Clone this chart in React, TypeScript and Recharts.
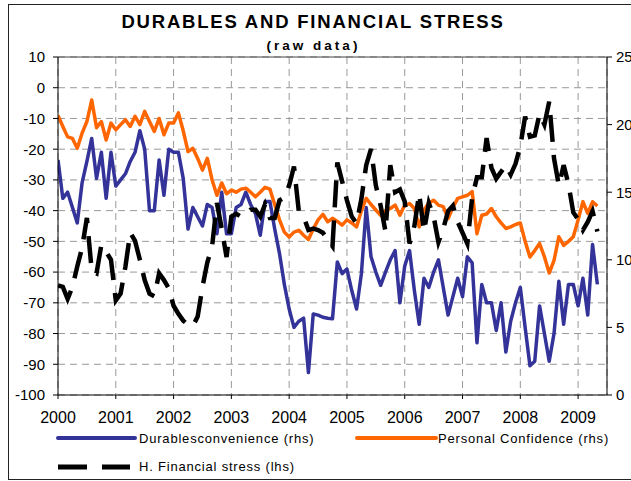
import { ComposedChart, Line, XAxis, YAxis, CartesianGrid, ReferenceLine } from "recharts";

// monthly series, Jan 2000 .. May 2009
const yearTicks = [2000, 2001, 2002, 2003, 2004, 2005, 2006, 2007, 2008, 2009];
const leftTicks = [-100, -90, -80, -70, -60, -50, -40, -30, -20, -10, 0, 10];
const rightTicks = [0, 5, 10, 15, 20, 25];

const durables = [
  -23.5, -36, -34, -39, -44, -31, -24, -16.5, -29.5, -21, -36, -21,
  -32, -30, -28, -24, -21, -14, -20, -40, -40, -23.5, -35, -20,
  -21, -21, -29.5, -46, -39, -42, -45, -38, -39, -47.5, -34, -47.5,
  -47.5, -39, -38, -34, -38, -41, -48, -37, -37, -46, -54, -64,
  -72, -78, -76, -75, -92.7, -73.6, -74, -74.7, -75, -75.2, -56.7, -60.5,
  -59, -66, -72, -60.5, -39, -55, -60, -64.3, -60, -56, -53, -70,
  -58, -53, -66, -77, -62, -65, -60, -56, -65, -74, -68, -62,
  -68, -55, -57, -83, -64, -70, -70, -79, -70, -86, -76, -70,
  -65, -78, -90.5, -89, -71, -80, -89, -80, -63, -77, -64, -64,
  -71, -62, -74, -51, -64,
];

const confidence = [
  -9, -12.6, -16, -16.5, -19.7, -14.8, -11, -4, -13, -11, -17, -11.5,
  -13.7, -12, -10.4, -12.6, -9.3, -12, -7.7, -11, -14.2, -10, -15.3, -11.5,
  -11.5, -8.2, -14, -20.8, -19.7, -23, -26.8, -23, -30, -35, -31, -34.5,
  -33.3, -34, -33, -32.7, -34, -35.5, -34, -32.4, -33, -38, -43, -47,
  -48.6, -47, -46.4, -48, -49.4, -46, -43, -41.2, -43.6, -42.5, -43.5, -44.7,
  -43, -44, -45.3, -40, -36, -38, -39.8, -41.5, -40, -39.3, -38.2, -41.5,
  -38.2, -37.7, -39.3, -45.3, -39.8, -37.5, -36.6, -38.2, -38.7, -42.6, -39, -36,
  -35.5, -35, -33.8, -47.5, -41.5, -41.1, -39.3, -42, -44, -45.8, -45.3, -44.5,
  -44, -50, -55.1, -53, -50.7, -55, -60.3, -56.2, -48.5, -51.3, -50, -48.5,
  -43, -37.1, -40.9, -37.1, -38.5,
];

const stress = [
  8.1, 8.0, 7.1, 8.0, 9.5, 10.9, 13.1, 9.2, 9.0, 11.1, 10.6, 10.0,
  7.0, 7.5, 9.5, 12.0, 11.4, 10.0, 8.5, 7.5, 7.3, 9.0, 8.5, 7.9,
  6.6, 6.0, 5.5, 5.2, 5.1, 5.8, 8.0, 9.8, 11.0, 14.2, 12.3, 10.2,
  13.2, 13.4, 13.2, 13.3, 13.7, 13.7, 13.2, 14.1, 13.1, 13.1, 14.4, 14.6,
  15.5, 16.9, 13.6, 13.2, 12.2, 12.3, 12.2, 12.0, 11.5, 11.0, 17.2, 15.8,
  14.4, 13.2, 12.7, 14.5, 17.0, 18.2, 15.5, 14.0, 12.1, 17.0, 15.0, 15.2,
  14.3, 11.2, 12.5, 14.9, 12.1, 14.2, 13.2, 11.3, 12.3, 13.6, 14.0, 12.8,
  12.0, 11.2, 14.6, 16.1, 16.1, 19.0, 16.8, 16.0, 16.5, 17.0, 16.3, 17.1,
  18.4, 20.6, 19.1, 19.2, 20.8, 20.0, 21.7, 17.5, 15.5, 17.0, 15.6, 13.5,
  13.0, 12.2, 12.8, 13.6, 12.1,
];

const data = durables.map((d, i) => ({
  m: i,
  durables: d,
  confidence: confidence[i],
  stress: stress[i],
}));

const FONT = "'Liberation Sans', Arial, sans-serif";
const tickStyle = { fill: "#000", fontSize: 16, fontFamily: FONT };

export default function App() {
  return (
    <div
      style={{
        position: "absolute",
        left: 0,
        top: 0,
        width: 631,
        height: 481,
        overflow: "hidden",
        background: "#fff",
        fontFamily: FONT,
      }}
    >
      <div
        style={{
          position: "absolute",
          left: 8,
          top: 4,
          width: 660,
          height: 474,
          border: "1.5px solid #222",
        }}
      />
      <ComposedChart
        width={660}
        height={481}
        data={data}
        margin={{ top: 57, right: 13, bottom: 56, left: 8 }}
        style={{ position: "absolute", left: 0, top: 0 }}
      >
        <CartesianGrid yAxisId="left" stroke="#999" strokeDasharray="7 5" />
        <XAxis
          dataKey="m"
          type="number"
          domain={[0, 114]}
          ticks={yearTicks.map((y) => (y - yearTicks[0]) * 12)}
          tickFormatter={(v: number) => String(yearTicks[0] + v / 12)}
          stroke="#000"
          tickSize={4}
          tickMargin={13}
          height={30}
          tick={tickStyle}
          allowDataOverflow
        />
        <YAxis
          yAxisId="left"
          domain={[-100, 10]}
          ticks={leftTicks}
          stroke="#000"
          width={50}
          tickSize={5}
          tickMargin={8}
          tick={{ ...tickStyle, fontSize: 15 }}
          interval={0}
        />
        <YAxis
          yAxisId="right"
          orientation="right"
          domain={[0, 25]}
          ticks={rightTicks}
          stroke="#000"
          width={40}
          tickSize={5}
          tickMargin={4}
          tick={{ ...tickStyle, fontSize: 15 }}
          interval={0}
        />
        <ReferenceLine yAxisId="left" y={10} stroke="#444" strokeWidth={1} />
        <Line
          yAxisId="left"
          dataKey="durables"
          type="linear"
          stroke="#333399"
          strokeWidth={3.5}
          strokeLinejoin="round"
          dot={false}
          activeDot={false}
          isAnimationActive={false}
        />
        <Line
          yAxisId="left"
          dataKey="confidence"
          type="linear"
          stroke="#FF6600"
          strokeWidth={3.5}
          strokeLinejoin="round"
          dot={false}
          activeDot={false}
          isAnimationActive={false}
        />
        <Line
          yAxisId="right"
          dataKey="stress"
          type="linear"
          stroke="#000"
          strokeWidth={4.5}
          strokeDasharray="27 13"
          dot={false}
          activeDot={false}
          isAnimationActive={false}
        />
      </ComposedChart>
      <svg
        width={631}
        height={481}
        style={{ position: "absolute", left: 0, top: 0, pointerEvents: "none" }}
        fontFamily={FONT}
      >
        <text x={313} y={28.3} textAnchor="middle" fontSize={18.5} fontWeight="bold" letterSpacing={1.8}>
          DURABLES AND FINANCIAL STRESS
        </text>
        <text x={313.5} y={50} textAnchor="middle" fontSize={13.5} fontWeight="bold" letterSpacing={3}>
          (raw data)
        </text>
        <line x1={58} y1={438} x2={135} y2={438} stroke="#333399" strokeWidth={4} strokeLinecap="round" />
        <text x={139} y={443} fontSize={13} letterSpacing={0.8}>
          Durablesconvenience (rhs)
        </text>
        <line x1={357} y1={438} x2={436} y2={438} stroke="#FF6600" strokeWidth={4} strokeLinecap="round" />
        <text x={438} y={443} fontSize={13} letterSpacing={0.8}>
          Personal Confidence (rhs)
        </text>
        <line x1={58} y1={467} x2={130} y2={467} stroke="#000" strokeWidth={5} strokeDasharray="29 15" />
        <text x={139} y={471} fontSize={13} letterSpacing={0.8}>
          H. Financial stress (lhs)
        </text>
      </svg>
    </div>
  );
}
